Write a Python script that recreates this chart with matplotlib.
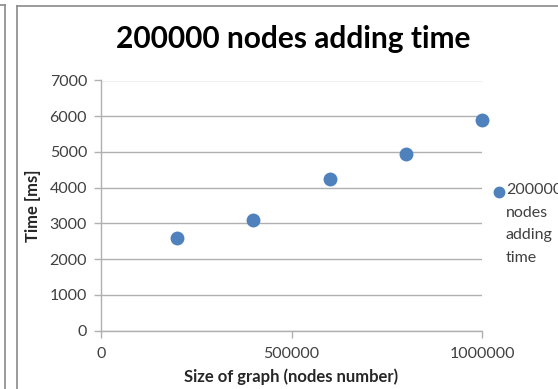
import matplotlib
matplotlib.use("Agg")
import matplotlib.pyplot as plt
from matplotlib.lines import Line2D

sizes = [200000, 400000, 600000, 800000, 1000000]
times = [2600, 3100, 4250, 4950, 5880]
series_name = "200000\nnodes\nadding\ntime"
title = "200000 nodes adding time"
xlabel = "Size of graph (nodes number)"
ylabel = "Time [ms]"
xticks = [0, 500000, 1000000]
yticks = [0, 1000, 2000, 3000, 4000, 5000, 6000, 7000]

plt.rcParams['font.family'] = ['Lato', 'DejaVu Sans']

W, H = 558, 389
fig = plt.figure(figsize=(W / 100, H / 100), dpi=100)
fig.patch.set_facecolor('white')

def fx(px):
    return px / W

def fy(py):
    return 1 - py / H

# chart frames (neighbouring chart edge + this chart's border)
fig.add_artist(Line2D([fx(5), fx(5)], [fy(5), 0], color='#8a8a8a', lw=1.2, transform=fig.transFigure))
fig.add_artist(Line2D([0, fx(5)], [fy(5), fy(5)], color='#8a8a8a', lw=1.2, transform=fig.transFigure))
fig.add_artist(Line2D([fx(17), fx(17)], [fy(6), 0], color='#8a8a8a', lw=1.2, transform=fig.transFigure))
fig.add_artist(Line2D([fx(17), 1], [fy(6), fy(6)], color='#8a8a8a', lw=1.2, transform=fig.transFigure))

left, right = 101, 482
top, bottom = 80.5, 330.5
ax = fig.add_axes([fx(left), fy(bottom), (right - left) / W, (bottom - top) / H])
ax.scatter(sizes, times, s=100, color='#4F81BD', zorder=3, label=series_name, linewidths=0, clip_on=False)

ax.set_xlim(0, 1000000)
ax.set_ylim(0, 7000)
ax.set_xticks(xticks)
ax.set_xticklabels([str(v) for v in xticks])
ax.set_yticks(yticks)
ax.set_yticklabels([str(v) for v in yticks])

ax.grid(axis='y', color='#b0b0b0', lw=1.0)
ax.set_axisbelow(True)
for s in ['top', 'right']:
    ax.spines[s].set_visible(False)
for s in ['left', 'bottom']:
    ax.spines[s].set_color('#b0b0b0')
    ax.spines[s].set_linewidth(1.0)
ax.tick_params(axis='both', colors='#b0b0b0', labelcolor='#404040', labelsize=11.5, length=5, width=1)
ax.tick_params(axis='x', pad=7)
ax.tick_params(axis='y', pad=5)

ax.set_xlabel(xlabel, fontsize=12, fontweight='bold', color='#262626', labelpad=5)
ax.set_ylabel(ylabel, fontsize=12, fontweight='bold', color='#262626', labelpad=6)

fig.text(fx(293), fy(39), title, fontsize=21.5, fontweight='bold', color='black', ha='center', va='center')

# legend
fig.add_artist(Line2D([fx(499)], [fy(192)], marker='o', markersize=7.5, color='#4F81BD', lw=0, transform=fig.transFigure))
fig.text(fx(506), fy(183), series_name, fontsize=11.5, color='#404040', ha='left', va='top', linespacing=1.78)

fig.savefig('out.png', dpi=100, facecolor='white')
